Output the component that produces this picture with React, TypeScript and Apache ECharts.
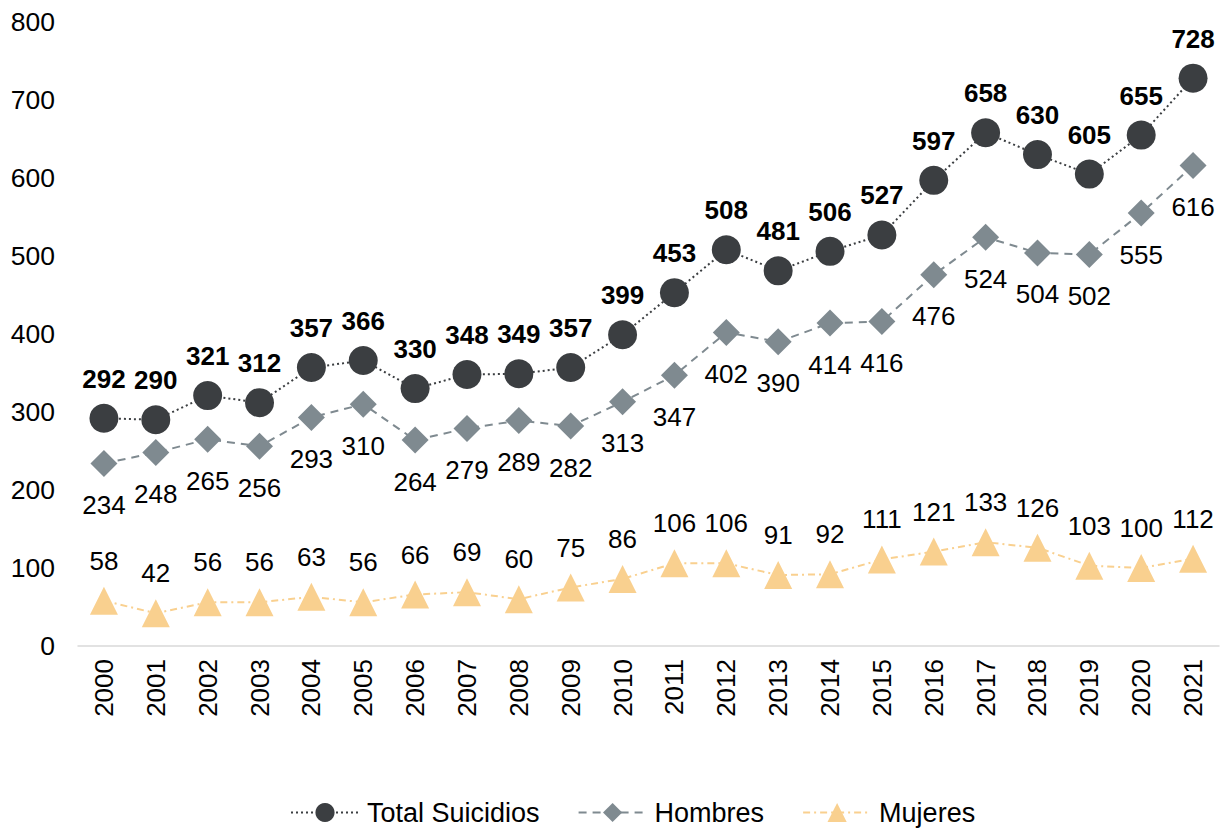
import React, { useEffect, useRef } from "react";
import * as echarts from "echarts";

const years = ["2000","2001","2002","2003","2004","2005","2006","2007","2008","2009","2010","2011","2012","2013","2014","2015","2016","2017","2018","2019","2020","2021"];
const total = [292,290,321,312,357,366,330,348,349,357,399,453,508,481,506,527,597,658,630,605,655,728];
const hombres = [234,248,265,256,293,310,264,279,289,282,313,347,402,390,414,416,476,524,504,502,555,616];
const mujeres = [58,42,56,56,63,56,66,69,60,75,86,106,106,91,92,111,121,133,126,103,100,112];

const FONT = "'Liberation Sans', Arial, sans-serif";

export default function App() {
  const ref = useRef<HTMLDivElement>(null);
  useEffect(() => {
    document.body.style.margin = "0";
    const chart = echarts.init(ref.current!, null, { renderer: "svg" });
    chart.setOption({
      animation: false,
      textStyle: { fontFamily: FONT },
      grid: { left: 78, right: 4, top: 22, bottom: 183, containLabel: false },
      legend: {
        top: 799,
        left: 290,
        padding: 0,
        itemWidth: 68,
        itemHeight: 24,
        itemGap: 38,
        textStyle: { fontSize: 27, color: "#000", fontFamily: FONT, padding: [0, 0, 0, 3] },
        data: ["Total Suicidios", "Hombres", "Mujeres"],
      },
      xAxis: {
        type: "category",
        data: years,
        boundaryGap: true,
        axisLine: { show: true, lineStyle: { color: "#d9d9d9", width: 1.5 } },
        axisTick: { show: false },
        axisLabel: { rotate: 90, fontSize: 26, color: "#000", margin: 13, fontFamily: FONT },
      },
      yAxis: {
        type: "value",
        min: 0,
        max: 800,
        interval: 100,
        axisLine: { show: false },
        axisTick: { show: false },
        splitLine: { show: false },
        axisLabel: { fontSize: 26.5, color: "#000", margin: 23, fontFamily: FONT },
      },
      series: [
        {
          name: "Mujeres",
          type: "line",
          data: mujeres,
          symbol: "triangle",
          symbolSize: 28,
          itemStyle: { color: "#f9d08f" },
          lineStyle: { color: "#f9d08f", width: 2, type: [7, 4, 2, 4] },
          label: { show: true, position: "top", distance: 13, fontSize: 26, color: "#000", fontFamily: FONT },
          z: 2,
        },
        {
          name: "Hombres",
          type: "line",
          data: hombres,
          symbol: "diamond",
          symbolSize: 27,
          itemStyle: { color: "#7f8a90" },
          lineStyle: { color: "#7f8a90", width: 2, type: [8, 6] },
          label: { show: true, position: "bottom", distance: 15, fontSize: 26, color: "#000", fontFamily: FONT },
          z: 3,
        },
        {
          name: "Total Suicidios",
          type: "line",
          data: total,
          symbol: "circle",
          symbolSize: 29,
          itemStyle: { color: "#3b3e41" },
          lineStyle: { color: "#3b3e41", width: 2, type: [2, 3] },
          label: { show: true, position: "top", distance: 12, fontSize: 26, fontWeight: "bold", color: "#000", fontFamily: FONT },
          z: 4,
        },
      ],
    });
    return () => chart.dispose();
  }, []);
  return <div ref={ref} style={{ width: 1223, height: 829 }} />;
}
